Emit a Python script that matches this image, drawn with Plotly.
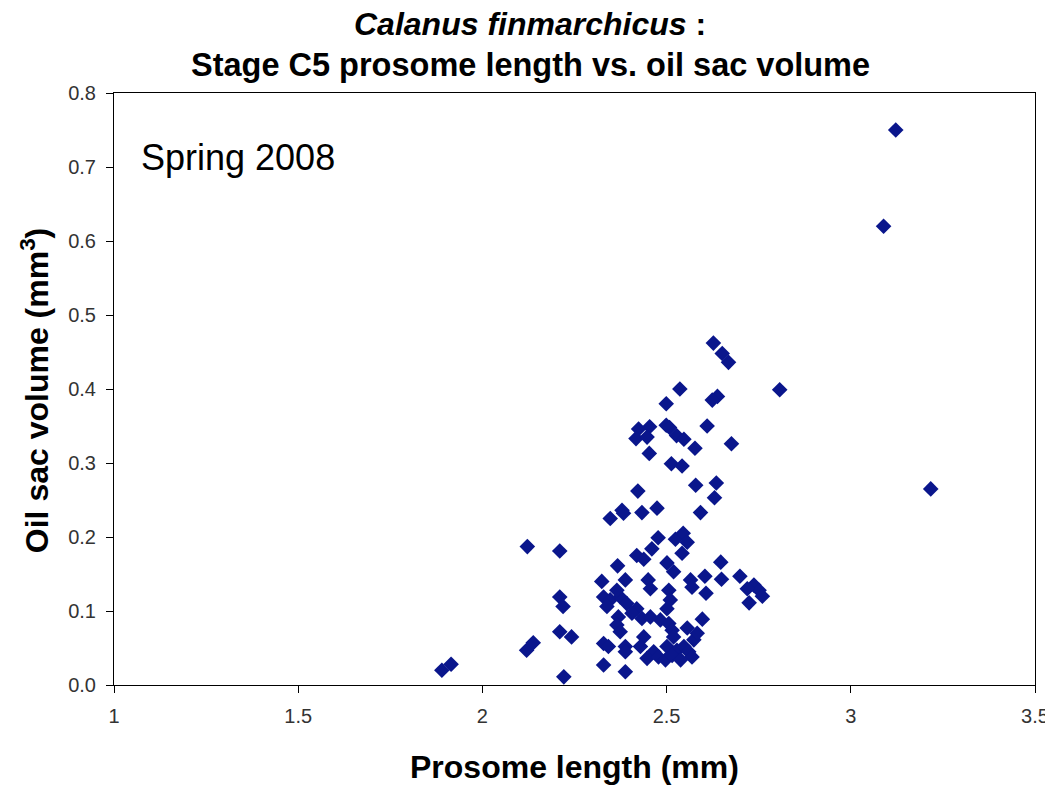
import plotly.graph_objects as go

length_mm = [
    3.122, 3.089, 3.217, 2.807,
    2.627, 2.651, 2.668, 2.536, 2.499, 2.638, 2.624,
    2.424, 2.454, 2.417, 2.447, 2.499, 2.508, 2.527, 2.547, 2.577, 2.610, 2.676,
    2.453, 2.513, 2.542, 2.579, 2.635, 2.630, 2.422,
    2.379, 2.383, 2.433, 2.474, 2.592, 2.347,
    2.122, 2.120, 2.138, 1.890, 1.915,
    2.210, 2.477, 2.524, 2.545, 2.556, 2.542, 2.460, 2.419, 2.438, 2.647,
    2.367, 2.501, 2.519, 2.324, 2.388, 2.450, 2.604, 2.649, 2.699, 2.565,
    2.737, 2.751, 2.760, 2.719, 2.724, 2.607, 2.569, 2.506, 2.456,
    2.329, 2.347, 2.338, 2.374, 2.392, 2.419, 2.406, 2.369, 2.433,
    2.510, 2.501, 2.483, 2.506, 2.515, 2.597, 2.365, 2.374,
    2.210, 2.242, 2.329, 2.342, 2.388, 2.388, 2.438, 2.429,
    2.465, 2.447, 2.478, 2.501, 2.497, 2.519, 2.528, 2.515,
    2.547, 2.560, 2.574, 2.583, 2.556, 2.569, 2.538,
    2.329, 2.388, 2.221, 2.210, 2.219, 2.365, 2.456,
]
oil_volume_mm3 = [
    0.750, 0.620, 0.265, 0.399,
    0.462, 0.448, 0.436, 0.400, 0.380, 0.390, 0.385,
    0.346, 0.349, 0.333, 0.335, 0.351, 0.348, 0.337, 0.332, 0.320, 0.350, 0.326,
    0.313, 0.299, 0.296, 0.270, 0.273, 0.253, 0.262,
    0.236, 0.232, 0.233, 0.239, 0.233, 0.225,
    0.187, 0.047, 0.057, 0.020, 0.028,
    0.181, 0.199, 0.197, 0.205, 0.193, 0.178, 0.184, 0.175, 0.170, 0.166,
    0.161, 0.165, 0.153, 0.140, 0.142, 0.142, 0.147, 0.143, 0.147, 0.142,
    0.135, 0.128, 0.120, 0.130, 0.111, 0.124, 0.132, 0.128, 0.130,
    0.119, 0.115, 0.106, 0.119, 0.110, 0.103, 0.097, 0.092, 0.090,
    0.115, 0.103, 0.088, 0.083, 0.074, 0.089, 0.081, 0.072,
    0.072, 0.065, 0.056, 0.052, 0.052, 0.045, 0.065, 0.052,
    0.045, 0.036, 0.038, 0.052, 0.034, 0.065, 0.047, 0.040,
    0.052, 0.045, 0.061, 0.070, 0.077, 0.038, 0.034,
    0.027, 0.018, 0.011, 0.119, 0.106, 0.128, 0.092,
]

x_tick_vals = [1, 1.5, 2, 2.5, 3, 3.5]
x_tick_text = ["1", "1.5", "2", "2.5", "3", "3.5"]
y_tick_vals = [0.0, 0.1, 0.2, 0.3, 0.4, 0.5, 0.6, 0.7, 0.8]

fig = go.Figure()
fig.add_trace(go.Scatter(
    x=length_mm, y=oil_volume_mm3, mode="markers",
    marker=dict(symbol="diamond", size=12, color="#0A168C", line=dict(width=0)),
    showlegend=False,
))

font_family = "Liberation Sans, Arial, sans-serif"
axis_common = dict(
    showline=True, linecolor="black", linewidth=1, mirror=True,
    ticks="outside", ticklen=7, tickcolor="black", showgrid=False, zeroline=False,
    tickfont=dict(family=font_family, size=20, color="#333333"),
    automargin=False,
)

fig.update_layout(
    width=1053, height=785,
    margin=dict(l=106, r=26, t=85, b=108),
    plot_bgcolor="white", paper_bgcolor="white",
    font=dict(family=font_family, color="black"),
    xaxis=dict(range=[1, 3.5], tickvals=x_tick_vals, ticktext=x_tick_text,
               ticklabelstandoff=6, **axis_common),
    yaxis=dict(range=[0, 0.8], tickvals=y_tick_vals, tickformat=".1f",
               ticklabelstandoff=6, **axis_common),
    annotations=[
        dict(text="<b><i>Calanus finmarchicus</i> :</b>", xref="paper", yref="paper",
             x=0.4517, y=1.1166, xanchor="center", yanchor="middle", showarrow=False,
             font=dict(family=font_family, size=32, color="black")),
        dict(text="<b>Stage C5 prosome length vs. oil sac volume</b>", xref="paper", yref="paper",
             x=0.4517, y=1.0473, xanchor="center", yanchor="middle", showarrow=False,
             font=dict(family=font_family, size=32.5, color="black")),
        dict(text="Spring 2008", xref="paper", yref="paper", x=0.027, y=0.891,
             xanchor="left", yanchor="middle", showarrow=False,
             font=dict(family=font_family, size=36, color="black")),
        dict(text="<b>Prosome length (mm)</b>", xref="paper", yref="paper",
             x=0.4995, y=-0.1385, xanchor="center", yanchor="middle", showarrow=False,
             font=dict(family=font_family, size=32, color="black")),
        dict(text="<b>Oil sac volume (mm<sup>3</sup>)</b>", xref="paper", yref="paper",
             x=-0.0858, y=0.498, xanchor="center", yanchor="middle", showarrow=False,
             textangle=-90, font=dict(family=font_family, size=32, color="black")),
    ],
)

fig.write_html("out.html")
